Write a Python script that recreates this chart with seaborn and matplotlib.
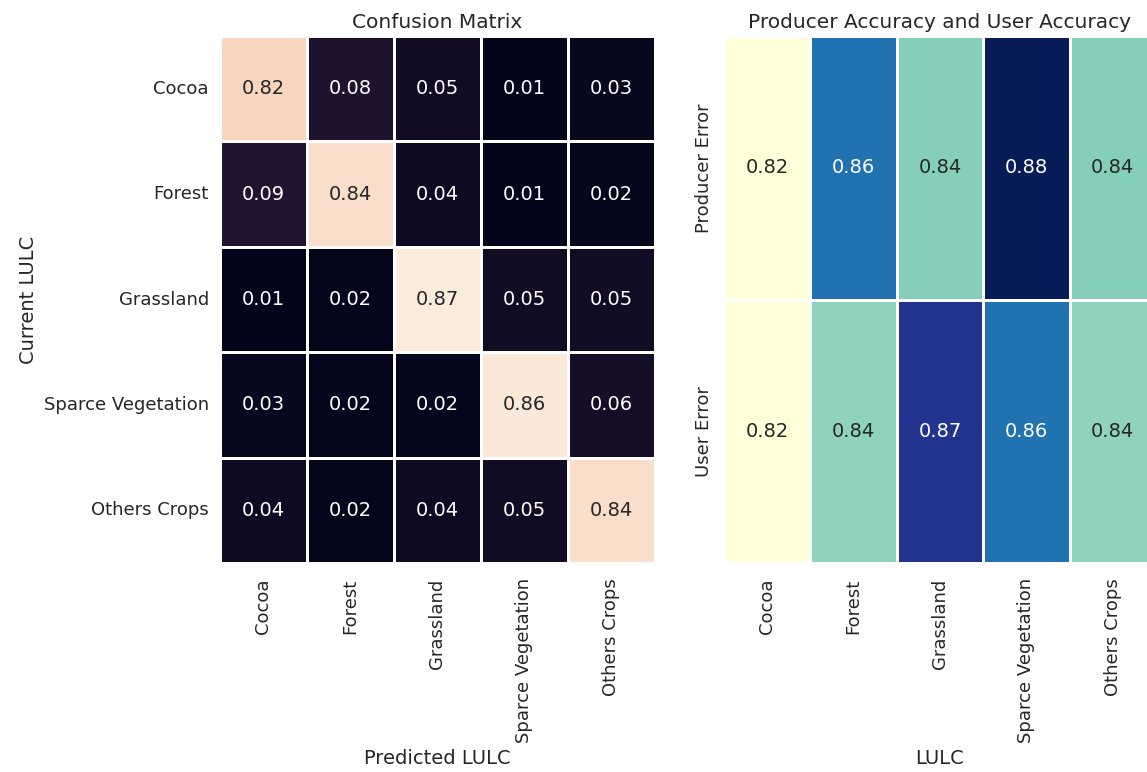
import seaborn as sns
import matplotlib.pyplot as plt
import pandas as pd

classes = ["Cocoa", "Forest", "Grassland", "Sparce Vegetation", "Others Crops"]

# confusion matrix rows (current LULC) x columns (predicted LULC)
cm_cocoa = [0.82, 0.08, 0.05, 0.01, 0.03]
cm_forest = [0.09, 0.84, 0.04, 0.01, 0.02]
cm_grassland = [0.01, 0.02, 0.87, 0.05, 0.05]
cm_sparce = [0.03, 0.02, 0.02, 0.86, 0.06]
cm_others = [0.04, 0.02, 0.04, 0.05, 0.84]

# accuracies (third decimal)
producer_acc = [0.820, 0.862, 0.842, 0.880, 0.842]
user_acc = [0.820, 0.841, 0.873, 0.862, 0.841]
acc_rows = ["Producer Error", "User Error"]

cm = pd.DataFrame([cm_cocoa, cm_forest, cm_grassland, cm_sparce, cm_others],
                  index=classes, columns=classes)
acc = pd.DataFrame([producer_acc, user_acc], index=acc_rows, columns=classes)

sns.set_theme(style="white")
tick_fs = 13
lab_fs = 14
title_fs = 14.5
annot_fs = 14

fig = plt.figure(figsize=(11.47, 7.72), dpi=100)
ax1 = fig.add_axes([0.1918, 0.2707, 0.3792, 0.6826])
ax2 = fig.add_axes([0.6312, 0.2707, 0.3766, 0.6826])

sns.heatmap(cm, ax=ax1, annot=True, fmt=".2f", cmap="rocket", cbar=False,
            linewidths=1, linecolor="white", annot_kws={"size": annot_fs})
ax1.set_title("Confusion Matrix", fontsize=title_fs)
ax1.set_xlabel("Predicted LULC", fontsize=lab_fs)
ax1.set_ylabel("Current LULC", fontsize=lab_fs)
ax1.tick_params(axis="both", labelsize=tick_fs, length=0)
ax1.tick_params(axis="x", pad=11)
ax1.tick_params(axis="y", pad=8)
plt.setp(ax1.get_xticklabels(), rotation=90)
plt.setp(ax1.get_yticklabels(), rotation=0)

sns.heatmap(acc, ax=ax2, annot=True, fmt=".2f", cmap="YlGnBu", cbar=False,
            linewidths=1, linecolor="white", annot_kws={"size": annot_fs})
ax2.set_title("Producer Accuracy and User Accuracy", fontsize=title_fs)
ax2.set_xlabel("LULC", fontsize=lab_fs)
ax2.set_ylabel("")
ax2.tick_params(axis="both", labelsize=tick_fs, length=0)
ax2.tick_params(axis="x", pad=11)
ax2.tick_params(axis="y", pad=8)
plt.setp(ax2.get_xticklabels(), rotation=90)
plt.setp(ax2.get_yticklabels(), rotation=90, va="center")

plt.savefig("out.png", dpi=100)
